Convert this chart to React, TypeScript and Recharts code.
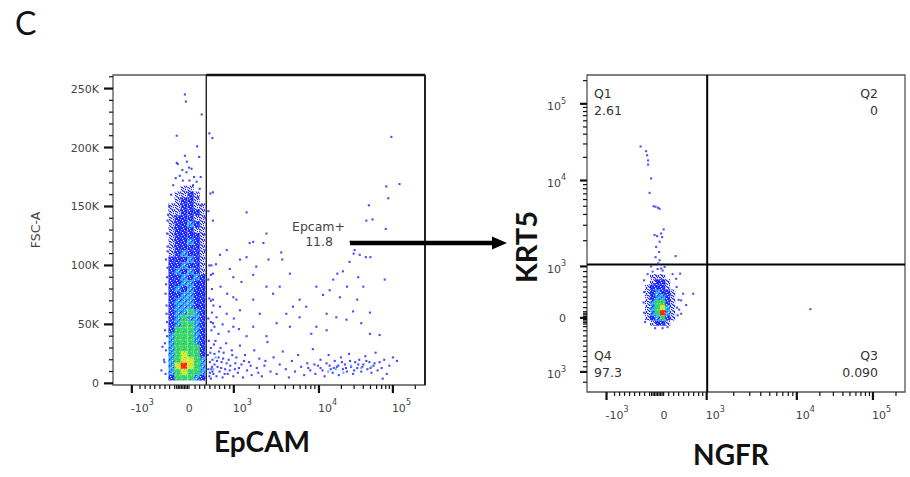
import React from 'react';
import {
  ScatterChart,
  Scatter,
  XAxis,
  YAxis,
  ReferenceLine,
  ReferenceArea,
} from 'recharts';

// display units: biexponential channel scale, 0 at zero, 1 at 10^3
const epcamDomain = [-1.37, 4.75];
const fscDomain = [-1.4, 261.5]; // FSC-A in K
const epcamMajorTicks = [-1, 0, 1, 2.67, 4.12];
const epcamTickLabels = [['-10', '3'], ['0', ''], ['10', '3'], ['10', '4'], ['10', '5']];
const epcamMinorTicks = [
  -0.84, -0.74, -0.64, -0.55, -0.45, -0.35, -0.26, -0.16, -0.12, -0.09, -0.06, -0.03,
  0.03, 0.06, 0.09, 0.12, 0.24, 0.33, 0.43, 0.53, 0.63, 0.72, 0.82, 0.92,
  1.5, 1.8, 2.01, 2.17, 2.3, 2.41, 2.51, 2.59,
  3.11, 3.36, 3.54, 3.68, 3.8, 3.9, 3.98, 4.05, 4.56,
];
const fscMajorTicks = [0, 50, 100, 150, 200, 250];
const fscTickLabels = ['0', '50K', '100K', '150K', '200K', '250K'];
const fscMinorTicks = [
  10, 20, 30, 40, 60, 70, 80, 90, 110, 120, 130, 140, 160, 170, 180, 190, 210, 220, 230, 240, 260,
];
const epcamGate = 0.46;
const epcamGateName = 'Epcam+';
const epcamGatePct = '11.8';

// density of the negative population: 1 sparse .. 6 densest
const epcamCoreCols = [-0.22, -0.1, 0.02, 0.15, 0.27, 0.38];
const epcamCoreRows = [
  5, 10, 15, 20, 25, 30, 35, 40, 45, 50, 55, 60, 65, 70, 75, 80, 85, 90, 95, 100,
  105, 110, 115, 120, 125, 130, 135, 140, 145, 150, 155, 160, 165,
];
const epcamCoreDensity = [
  '244432', '345443', '356543', '345543', '345442', '344442', '344432', '344432',
  '244432', '234432', '234332', '233432', '233322', '233322', '223322', '232322',
  '223322', '223232', '232321', '223221', '222321', '123221', '122221', '122321',
  '122221', '122211', '122321', '122211', '112221', '112211', '012210', '011210',
  '001100',
];

const epcamDots: [number, number][] = [
  [0.04, 245], [0.06, 239], [0.37, 228], [-0.12, 210], [0.28, 201], [0.04, 193], [0.32, 192],
  [-0.12, 187], [-0.01, 181], [0.12, 183], [0.22, 175], [-0.06, 176], [0.07, 179], [0.27, 171],
  [0.35, 175], [0.17, 182], [-0.19, 168], [0.33, 165], [-0.23, 160], [0.3, 158], [-0.3, 138],
  [0.36, 151], [-0.31, 127], [-0.3, 116], [-0.33, 105], [-0.31, 90], [-0.34, 76], [-0.32, 59],
  [-0.35, 45], [-0.36, 18], [-0.33, 28], [-0.34, 8], [-0.31, 40], [-0.32, 66], [-0.3, 98],
  [-0.3, 112], [-0.29, 143], [-0.27, 150], [0.44, 140], [0.42, 126], [0.44, 113],
  [0.52, 100], [0.5, 88], [0.52, 72], [0.5, 55], [0.51, 36], [0.49, 24], [0.5, 12], [0.52, 6],
  [-0.31, 52], [-0.33, 84], [-0.37, 20], [-0.35, 34], [0.13, 172], [-0.1, 186], [0.2, 168],
  [0.08, 188], [0.0, 172], [-0.14, 174], [-0.42, 11], [-0.4, 31],
  [0.52, 212], [0.58, 208], [0.54, 161], [0.59, 162], [0.5, 146], [0.59, 138], [1.25, 145],
  [1.64, 127], [1.38, 120], [1.31, 119], [1.58, 119], [1.93, 111], [1.68, 105], [1.95, 105],
  [0.86, 113], [0.73, 109], [0.65, 101], [0.92, 97], [1.12, 105], [1.25, 107], [1.44, 99],
  [0.99, 90], [1.15, 86], [0.59, 93], [0.74, 82], [0.87, 76], [0.99, 73], [1.38, 92],
  [1.64, 82], [1.9, 82], [2.1, 93], [2.29, 71], [2.62, 82], [2.75, 75], [2.88, 79], [2.95, 88],
  [3.03, 93], [3.14, 95], [3.27, 103], [3.35, 110], [3.47, 109], [3.59, 107], [3.68, 107],
  [3.44, 90], [3.54, 82], [3.22, 82], [3.08, 73], [3.42, 71], [3.67, 60], [3.96, 88],
  [3.6, 138], [3.72, 139], [3.65, 151], [3.99, 167], [4.03, 157], [4.25, 169], [4.09, 209],
  [3.98, 131], [3.29, 120], [3.37, 113], [2.62, 48], [2.82, 59], [3.01, 56], [3.21, 54],
  [3.34, 61], [3.5, 51], [3.67, 42], [3.86, 41], [2.29, 56], [2.03, 59], [1.84, 51], [1.51, 59],
  [1.12, 62], [0.86, 59], [0.66, 56], [0.59, 71], [0.73, 65], [1.05, 71], [1.38, 71], [1.77, 76],
  [2.16, 65], [2.42, 65], [0.59, 51], [0.99, 48], [1.38, 48], [1.64, 40], [2.1, 48], [2.52, 42],
  [2.82, 45],
  [0.55, 4], [0.56, 12], [0.58, 20], [0.55, 30], [0.6, 8], [0.62, 16], [0.62, 25], [0.64, 36],
  [0.66, 6], [0.68, 14], [0.7, 22], [0.72, 10], [0.74, 30], [0.76, 18], [0.78, 5], [0.8, 26],
  [0.83, 12], [0.85, 34], [0.88, 8], [0.9, 20], [0.93, 15], [0.96, 28], [0.99, 6], [1.02, 12],
  [1.05, 22], [1.08, 9], [1.12, 32], [1.15, 16], [1.18, 5], [1.22, 24], [1.26, 11], [1.3, 18],
  [1.35, 7], [1.4, 28], [1.45, 13], [1.5, 21], [1.55, 6], [1.6, 15], [1.66, 35], [1.72, 10],
  [1.78, 22], [1.84, 8], [1.9, 16], [1.96, 27], [2.02, 12], [2.08, 5], [2.14, 19], [2.2, 10],
  [2.26, 24], [2.32, 14], [2.38, 7], [2.44, 17], [2.5, 11], [2.55, 29], [2.6, 8], [2.65, 15],
  [2.7, 20], [2.74, 11], [2.78, 6], [2.82, 17], [2.86, 24], [2.9, 12], [2.94, 9], [2.98, 19],
  [3.02, 14], [3.06, 7], [3.1, 22], [3.14, 12], [3.18, 16], [3.22, 10], [3.26, 25], [3.3, 14],
  [3.34, 8], [3.38, 18], [3.42, 13], [3.46, 20], [3.5, 10], [3.54, 16], [3.58, 23], [3.62, 12],
  [3.66, 18], [3.7, 9], [3.74, 15], [3.78, 26], [3.82, 11], [3.86, 18], [3.9, 13], [3.95, 20],
  [4.0, 8], [4.05, 15], [4.12, 22], [4.2, 19], [3.92, 4],
  [3.05, 15], [3.12, 18], [3.2, 13], [3.28, 19], [3.36, 11], [3.44, 16], [3.52, 14], [3.6, 19],
  [3.68, 13], [3.76, 17], [2.88, 15], [2.96, 13], [2.7, 13], [2.58, 16], [2.46, 13],
  [0.53, 18], [0.54, 26], [0.53, 9], [0.57, 14], [0.61, 33], [0.58, 10], [0.67, 19], [0.71, 27],
  [0.75, 13], [0.79, 21], [0.82, 8], [0.86, 17], [0.92, 11], [0.97, 24], [1.03, 17], [1.1, 13],
  [1.2, 19], [1.33, 15], [1.48, 9], [1.62, 19],
  [0.56, 45], [0.55, 52], [0.57, 60], [0.62, 48], [0.7, 42], [0.78, 50], [0.9, 44], [1.0, 55],
  [1.1, 46], [1.25, 40], [0.55, 70], [0.57, 80], [0.6, 66], [0.55, 92], [0.56, 100],
];
const epcamDotsLight: [number, number][] = [
  [3.0, 12], [3.3, 15], [3.5, 13], [3.7, 14], [2.85, 10], [3.15, 9], [0.6, 12], [0.64, 22],
];

// right plot: NGFR vs KRT5, both biex display units
const ngfrDomain = [-1.41, 4.94];
const krt5Domain = [-1.44, 4.72];
const ngfrMajorTicks = [-1.02, 0, 0.98, 2.78, 4.3];
const ngfrTickLabels = [['-10', '3'], ['0', ''], ['10', '3'], ['10', '4'], ['10', '5']];
const ngfrMinorTicks = [
  -0.86, -0.76, -0.66, -0.56, -0.46, -0.36, -0.26, -0.16, -0.12, -0.09, -0.06, -0.03,
  0.03, 0.06, 0.09, 0.12, 0.22, 0.32, 0.42, 0.52, 0.62, 0.72, 0.82, 0.9,
  1.52, 1.84, 2.06, 2.24, 2.38, 2.5, 2.61, 2.7,
  3.24, 3.51, 3.7, 3.84, 3.96, 4.06, 4.15, 4.23, 4.76,
];
const krt5MajorTicks = [-1.05, 0, 1.0, 2.67, 4.16];
const krt5TickLabels = [['10', '3'], ['0', ''], ['10', '3'], ['10', '4'], ['10', '5']];
const krt5MinorTicks = [
  -1.25, -0.95, -0.85, -0.75, -0.65, -0.55, -0.45, -0.35, -0.25, -0.17, -0.12, -0.09, -0.06,
  -0.03, 0.03, 0.06, 0.09, 0.12, 0.2, 0.3, 0.4, 0.5, 0.6, 0.7, 0.8, 0.9,
  1.5, 1.8, 2.01, 2.17, 2.3, 2.41, 2.51, 2.59,
  3.12, 3.38, 3.57, 3.71, 3.83, 3.93, 4.01, 4.09, 4.61,
];
const ngfrGate = 0.99;
const krt5Gate = 1.04;
const quadrantNames = ['Q1', 'Q2', 'Q3', 'Q4'];
const quadrantPcts = ['2.61', '0', '0.090', '97.3'];

const krt5CoreCols = [-0.2, -0.1, 0.0, 0.1, 0.2, 0.3];
const krt5CoreRows = [0.8, 0.7, 0.6, 0.5, 0.4, 0.3, 0.2, 0.1, 0.0, -0.1];
const krt5CoreDensity = [
  '011100', '012210', '122210', '123221', '123321', '134421', '134531', '134631', '123421',
  '012210',
];
const krt5Dots: [number, number][] = [
  [-0.34, 3.33], [-0.23, 3.24], [-0.21, 3.16], [-0.19, 3.06], [-0.19, 2.98], [-0.13, 2.71],
  [-0.16, 2.43], [-0.08, 2.17], [-0.04, 2.16], [0.01, 2.14], [0.04, 2.12], [0.12, 1.72],
  [0.07, 1.64], [-0.06, 1.61], [-0.01, 1.59], [0.09, 1.57], [0.04, 1.48], [-0.03, 1.38],
  [0.03, 1.28], [0.36, 1.2], [-0.04, 1.18], [0.04, 1.12], [0.01, 1.06], [0.07, 0.96],
  [0.14, 0.99], [0.37, 0.76], [0.45, 0.86], [0.71, 0.47], [0.57, 0.25], [0.47, 0.08],
  [0.43, 0.16], [0.47, 0.34], [0.51, 0.47], [-0.13, 1.0], [-0.27, 0.73], [3.05, 0.17],
  [-0.28, 0.3], [-0.27, 0.5], [-0.27, 0.1], [-0.25, -0.08], [0.4, 0.05], [0.39, 0.2],
  [0.38, 0.6], [0.1, -0.2], [-0.05, -0.2], [0.2, -0.18], [0.42, 0.35], [0.3, 0.85],
  [-0.1, 0.9], [0.0, 0.95], [0.1, 0.92], [-0.2, 0.85],
];

const densityFills = ['url(#dens1)', 'url(#dens2)', 'url(#dens3)', 'url(#dens4)', 'url(#dens5)', 'url(#dens6)'];
const tickFont = "'DejaVu Sans', sans-serif";
const titleFont = "Lato, 'Noto Sans', sans-serif";

const toPoints = (pairs: [number, number][]) => pairs.map(([x, y]) => ({ x, y }));

const buildCells = (cols: number[], rows: number[], dens: string[]) =>
  rows.flatMap((y, i) => cols.map((x, j) => ({ x, y, d: Number(dens[i][j]) })));

const cell = (w: number, h: number, fill: string, opacity = 1) => (props: any) => (
  <rect
    x={props.cx - w / 2}
    y={props.cy - h / 2}
    width={w}
    height={h}
    fill={fill}
    fillOpacity={opacity}
  />
);

// speckled textures so the density cells read like packed events
function Speckle({ id, base, dots }: { id: string; base?: string; dots: [number, number, string][] }) {
  return (
    <pattern id={id} width={6} height={6} patternUnits="userSpaceOnUse">
      {base && <rect width={6} height={6} fill={base} />}
      {dots.map(([x, y, c], i) => (
        <rect key={i} x={x} y={y} width={1.2} height={1.2} fill={c} />
      ))}
    </pattern>
  );
}

function DensityDefs() {
  const b = '#2323ff';
  return (
    <svg width={0} height={0} style={{ position: 'absolute' }}>
      <defs>
        <Speckle
          id="dens1"
          dots={[
            [0, 0, b], [2, 1, b], [4, 0, b], [1, 3, b], [3, 2, b], [5, 3, b], [0, 5, b],
            [2, 4, b], [4, 5, b], [5, 1, b], [3, 4, '#5aa8ff'], [1, 1, b], [3, 5, b],
          ]}
        />
        <Speckle
          id="dens2"
          base="#1e1eff"
          dots={[
            [1, 1, '#6ab4ff'], [4, 2, '#9fdcff'], [2, 4, '#ffffff'], [5, 5, '#4a7dff'],
            [0, 3, '#2fb0ff'], [3, 0, '#dfefff'],
          ]}
        />
        <Speckle
          id="dens3"
          base="#2b9dff"
          dots={[
            [0, 0, '#1e1eff'], [3, 3, '#1e1eff'], [5, 1, '#1e1eff'], [1, 5, '#1e1eff'],
            [2, 1, '#45e6f0'], [4, 4, '#45e6f0'], [0, 3, '#45e6f0'], [4, 0, '#ffffff'],
            [2, 3, '#3cd878'],
          ]}
        />
        <Speckle
          id="dens4"
          base="#33dc5c"
          dots={[
            [0, 2, '#2ab0ff'], [4, 5, '#2ab0ff'], [2, 5, '#2ad0d0'], [2, 0, '#a8ec38'],
            [5, 3, '#a8ec38'], [1, 3, '#7ee640'], [3, 1, '#3b7bff'],
          ]}
        />
        <Speckle
          id="dens5"
          base="#d6ee30"
          dots={[
            [1, 1, '#6ae040'], [4, 3, '#6ae040'], [0, 4, '#8ee83a'], [3, 5, '#ffb020'],
            [5, 0, '#ffc820'],
          ]}
        />
        <Speckle id="dens6" base="#ff2a10" dots={[[0, 0, '#ff8a20'], [3, 3, '#ff7a18']]} />
      </defs>
    </svg>
  );
}

function Label10({ base, sup }: { base: string; sup: string }) {
  return (
    <>
      <tspan>{base}</tspan>
      {sup && (
        <tspan dy={-6.5} fontSize={8}>
          {sup}
        </tspan>
      )}
    </>
  );
}

const makeXTick = (majors: number[], labels: string[][]) => (props: any) => {
  const { x, y, payload } = props;
  const idx = majors.indexOf(payload.value);
  const big = idx >= 0 && labels[idx][1] !== '';
  const len = big ? 8 : 4;
  return (
    <g>
      <line x1={x} x2={x} y1={y} y2={y + len} stroke="#111" strokeWidth={big ? 2.2 : 1.2} />
      {idx >= 0 && (
        <text
          x={labels[idx][1] ? x - 1 : x + 3}
          y={y + 26.5}
          fontSize={11}
          fontFamily={tickFont}
          fill="#444"
          textAnchor="start"
        >
          <Label10 base={labels[idx][0]} sup={labels[idx][1]} />
        </text>
      )}
    </g>
  );
};

const makeYTick = (majors: number[], labels: string[][], gap: number, len: number) => (props: any) => {
  const { x, y, payload } = props;
  const idx = majors.indexOf(payload.value);
  const big = idx >= 0;
  const sup = big ? labels[idx][1] : '';
  return (
    <g>
      <line
        x1={x - (big ? len : 4)}
        x2={x}
        y1={y}
        y2={y}
        stroke="#111"
        strokeWidth={big ? 2.2 : 1.2}
      />
      {big && (
        <text
          x={x - gap}
          y={y + (sup ? 6.5 : 4)}
          fontSize={11}
          fontFamily={tickFont}
          fill="#444"
          textAnchor="end"
        >
          <Label10 base={labels[idx][0]} sup={sup} />
        </text>
      )}
    </g>
  );
};

function EpcamPlot() {
  const cells = buildCells(epcamCoreCols, epcamCoreRows, epcamCoreDensity);
  const xTicks = [...epcamMajorTicks, ...epcamMinorTicks].sort((a, b) => a - b);
  const yTicks = [...fscMajorTicks, ...fscMinorTicks].sort((a, b) => a - b);
  const fscLabels = fscTickLabels.map((t) => [t, '']);
  return (
    <ScatterChart width={440} height={477} margin={{ top: 75, right: 15, bottom: 52, left: 0 }}>
      <XAxis
        type="number"
        dataKey="x"
        domain={epcamDomain}
        ticks={xTicks}
        interval={0}
        allowDataOverflow
        height={40}
        axisLine={false}
        tickLine={false}
        tickSize={0}
        tickMargin={0}
        tick={makeXTick(epcamMajorTicks, epcamTickLabels)}
      />
      <YAxis
        type="number"
        dataKey="y"
        domain={fscDomain}
        ticks={yTicks}
        interval={0}
        allowDataOverflow
        width={113}
        axisLine={false}
        tickLine={false}
        tickSize={0}
        tickMargin={0}
        tick={makeYTick(fscMajorTicks, fscLabels, 14, 9)}
      />
      {densityFills.map((f, i) => (
        <Scatter
          key={f}
          data={cells.filter((c) => c.d === i + 1)}
          shape={cell(6.3, 6.1, f)}
          isAnimationActive={false}
        />
      ))}
      <Scatter data={toPoints(epcamDots)} shape={cell(2.1, 2.1, '#2a2aff', 0.85)} isAnimationActive={false} />
      <Scatter data={toPoints(epcamDotsLight)} shape={cell(2.1, 2.1, '#4fb8ff')} isAnimationActive={false} />
      <ReferenceArea
        x1={epcamDomain[0]}
        x2={epcamDomain[1]}
        y1={fscDomain[0]}
        y2={fscDomain[1]}
        fill="none"
        stroke="#555"
        strokeWidth={1.3}
        ifOverflow="visible"
      />
      <ReferenceLine x={epcamGate} stroke="#222" strokeWidth={1.4} ifOverflow="visible" />
      <ReferenceLine
        segment={[
          { x: epcamGate, y: fscDomain[1] },
          { x: epcamDomain[1], y: fscDomain[1] },
        ]}
        stroke="#111"
        strokeWidth={2.6}
        ifOverflow="visible"
      />
      <ReferenceLine
        segment={[
          { x: epcamDomain[1], y: fscDomain[0] },
          { x: epcamDomain[1], y: fscDomain[1] },
        ]}
        stroke="#222"
        strokeWidth={2}
        ifOverflow="visible"
      />
    </ScatterChart>
  );
}

function Krt5Plot() {
  const cells = buildCells(krt5CoreCols, krt5CoreRows, krt5CoreDensity);
  const xTicks = [...ngfrMajorTicks, ...ngfrMinorTicks].sort((a, b) => a - b);
  const yTicks = [...krt5MajorTicks, ...krt5MinorTicks].sort((a, b) => a - b);
  return (
    <ScatterChart width={450} height={477} margin={{ top: 75, right: 5, bottom: 45, left: 0 }}>
      <XAxis
        type="number"
        dataKey="x"
        domain={ngfrDomain}
        ticks={xTicks}
        interval={0}
        allowDataOverflow
        height={40}
        axisLine={false}
        tickLine={false}
        tickSize={0}
        tickMargin={0}
        tick={makeXTick(ngfrMajorTicks, ngfrTickLabels)}
      />
      <YAxis
        type="number"
        dataKey="y"
        domain={krt5Domain}
        ticks={yTicks}
        interval={0}
        allowDataOverflow
        width={127}
        axisLine={false}
        tickLine={false}
        tickSize={0}
        tickMargin={0}
        tick={makeYTick(krt5MajorTicks, krt5TickLabels, 21, 7)}
      />
      {densityFills.map((f, i) => (
        <Scatter
          key={f}
          data={cells.filter((c) => c.d === i + 1)}
          shape={cell(5.2, 5.3, f)}
          isAnimationActive={false}
        />
      ))}
      <Scatter data={toPoints(krt5Dots)} shape={cell(2.1, 2.1, '#3333ff', 0.85)} isAnimationActive={false} />
      <ReferenceArea
        x1={ngfrDomain[0]}
        x2={ngfrDomain[1]}
        y1={krt5Domain[0]}
        y2={krt5Domain[1]}
        fill="none"
        stroke="#555"
        strokeWidth={1.3}
        ifOverflow="visible"
      />
      <ReferenceLine x={ngfrGate} stroke="#000" strokeWidth={2} ifOverflow="visible" />
      <ReferenceLine y={krt5Gate} stroke="#000" strokeWidth={2} ifOverflow="visible" />
    </ScatterChart>
  );
}

export default function App() {
  const qStyle = { fontSize: 12.5, fontFamily: tickFont, fill: '#333' };
  return (
    <div
      style={{
        position: 'absolute',
        left: 0,
        top: 0,
        width: 910,
        height: 477,
        background: '#fff',
        overflow: 'hidden',
      }}
    >
      <DensityDefs />
      <div style={{ position: 'absolute', left: 0, top: 0 }}>
        <EpcamPlot />
      </div>
      <div style={{ position: 'absolute', left: 460, top: 0 }}>
        <Krt5Plot />
      </div>
      <svg
        width={910}
        height={477}
        style={{ position: 'absolute', left: 0, top: 0, pointerEvents: 'none' }}
      >
        <text x={15} y={35} fontSize={32} fontFamily={titleFont} fill="#111">
          C
        </text>
        <text
          x={40}
          y={230}
          transform="rotate(-90 40 230)"
          textAnchor="middle"
          fontSize={12.5}
          fontFamily={tickFont}
          fill="#444"
        >
          FSC-A
        </text>
        <text x={262} y={452} textAnchor="middle" fontSize={28} fontWeight={700} fontFamily={titleFont} fill="#111">
          EpCAM
        </text>
        <text x={731} y={465} textAnchor="middle" fontSize={28} fontWeight={700} fontFamily={titleFont} fill="#111">
          NGFR
        </text>
        <text
          x={537}
          y={247}
          transform="rotate(-90 537 247)"
          textAnchor="middle"
          fontSize={29}
          fontWeight={700}
          fontFamily={titleFont}
          fill="#111"
        >
          KRT5
        </text>
        <text x={345} y={230.5} textAnchor="end" fontSize={12.5} fontFamily={tickFont} fill="#444">
          {epcamGateName}
        </text>
        <text x={333} y={245.5} textAnchor="end" fontSize={12.5} fontFamily={tickFont} fill="#444">
          {epcamGatePct}
        </text>
        <line x1={350} y1={243} x2={494} y2={243} stroke="#000" strokeWidth={4.5} />
        <polygon points="492,236.5 507,243 492,249.5" fill="#000" />
        <text x={594} y={98} style={qStyle}>{quadrantNames[0]}</text>
        <text x={594} y={115} style={qStyle}>{quadrantPcts[0]}</text>
        <text x={878} y={98} textAnchor="end" style={qStyle}>{quadrantNames[1]}</text>
        <text x={878} y={115} textAnchor="end" style={qStyle}>{quadrantPcts[1]}</text>
        <text x={878} y={360} textAnchor="end" style={qStyle}>{quadrantNames[2]}</text>
        <text x={878} y={376.5} textAnchor="end" style={qStyle}>{quadrantPcts[2]}</text>
        <text x={594} y={360} style={qStyle}>{quadrantNames[3]}</text>
        <text x={594} y={376.5} style={qStyle}>{quadrantPcts[3]}</text>
      </svg>
    </div>
  );
}
